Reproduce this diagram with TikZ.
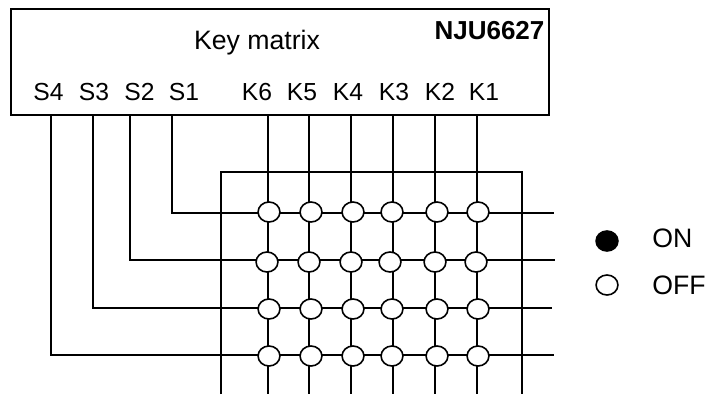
\documentclass[tikz,border=0pt]{standalone}
\usepackage{fontspec}
\setmainfont{Liberation Sans}
\usetikzlibrary{shapes.geometric}
\tikzset{
  wire/.style={line width=1pt,black,line cap=butt},
  sw/.style={ellipse,draw=black,line width=1.2pt,fill=white,minimum width=16.4pt,minimum height=15pt,inner sep=0pt,outer sep=0pt},
  lgd/.style={sw},
  lgdon/.style={lgd,fill=black},
  lbl/.style={font=\fontsize{18.5pt}{20pt}\selectfont,text=black,inner sep=0pt,anchor=center},
  pin/.style={lbl},
  title/.style={lbl,font=\fontsize{20pt}{22pt}\selectfont},
  part/.style={lbl,font=\fontsize{19.5pt}{22pt}\selectfont\bfseries},
  lgdtext/.style={lbl,anchor=west,font=\fontsize{20pt}{22pt}\selectfont}
}
\begin{document}
\begin{tikzpicture}[x=0.75pt,y=-0.75pt]
\useasboundingbox (0,0) rectangle (707,394);
% chip
\node[draw=black,line width=1.5pt,minimum width=403.5pt,minimum height=79.5pt,inner sep=0pt,outer sep=0pt] (chip) at (280,62) {};
\node[title] (tkey) at (257,43) {Key matrix};
\node[part] (tpart) at (489.5,31) {NJU6627};
\foreach \n/\x in {S4/48.5,S3/94,S2/139.5,S1/184,K6/257,K5/302,K4/348,K3/394,K2/440,K1/484}{
  \node[pin] (t\n) at (\x,92) {\n};
}
% frame
\coordinate (fa) at (221,394);
\coordinate (fb) at (221,172);
\coordinate (fc) at (522,172);
\coordinate (fd) at (522,394);
\draw[wire] (fa) -- (fb) -- (fc) -- (fd);
% column wires
\foreach \c/\x in {6/268,5/309,4/351,3/393,2/435,1/477}{
  \coordinate (ct\c) at (\x,115);
  \coordinate (cb\c) at (\x,394);
  \draw[wire] (ct\c) -- (cb\c);
}
% row wires
\foreach \r/\xs/\y/\xe in {1/172/213/554,2/130/260/555,3/93/308/552,4/51/355/554}{
  \coordinate (rt\r) at (\xs,115);
  \coordinate (rc\r) at (\xs,\y);
  \coordinate (re\r) at (\xe,\y);
  \draw[wire] (rt\r) -- (rc\r) -- (re\r);
}
% switches
\foreach \r/\y/\d in {1/212/0,2/262/-2,3/309/0,4/356/0}{
  \foreach \c/\x in {6/269,5/311,4/353,3/392,2/437,1/478}{
    \node[sw] (e\r\c) at ({\x+\d},\y) {};
  }
}
% legend
\node[lgdon] (lon) at (607,241) {};
\node[lgd] (loff) at (607,285) {};
\node[lgdtext] (ton) at (652,238.5) {ON};
\node[lgdtext] (toff) at (652,285) {OFF};
\end{tikzpicture}
\end{document}
